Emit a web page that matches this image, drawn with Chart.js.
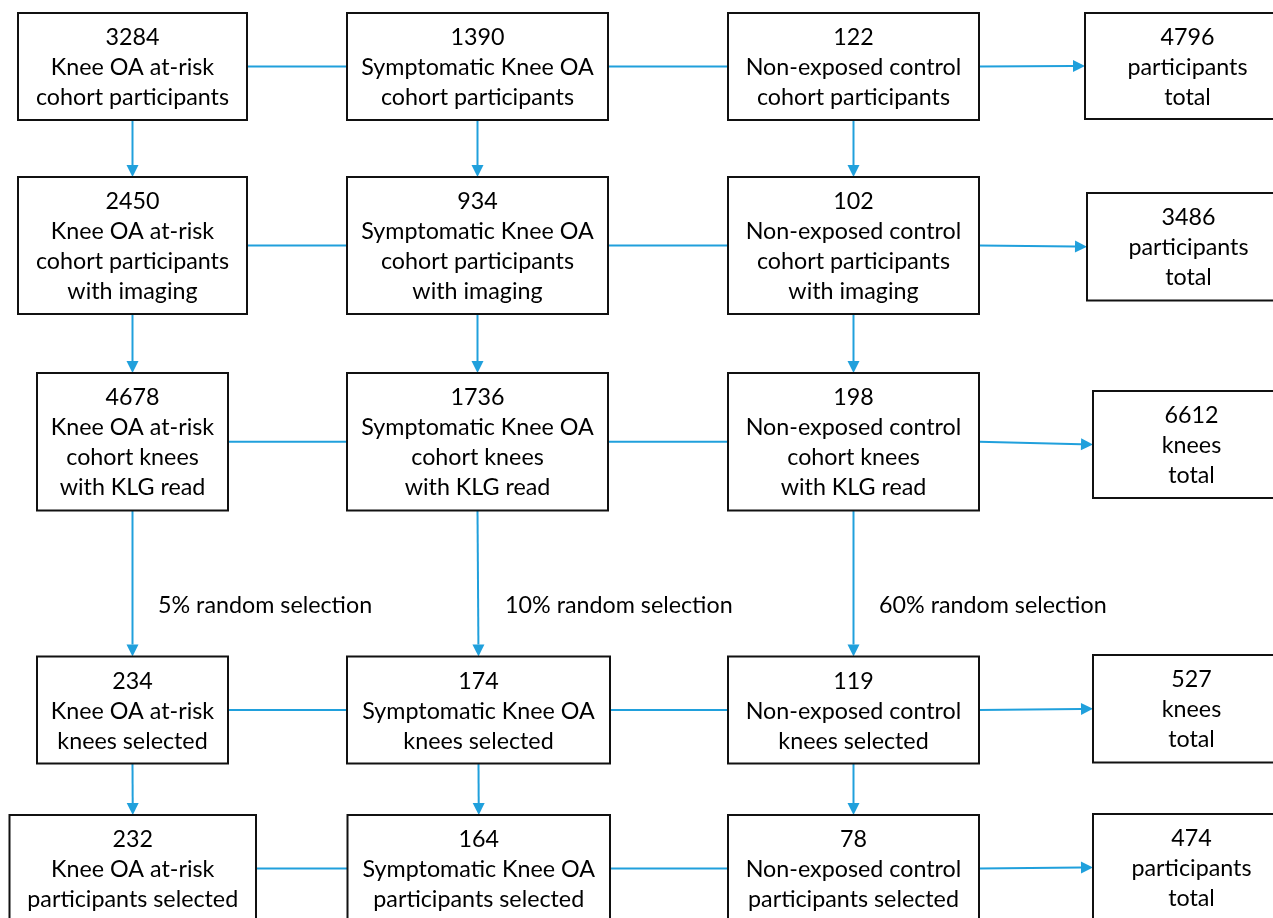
<!DOCTYPE html>
<html>
<head>
<meta charset="utf-8">
<title>Flow of participants and knees</title>
<script src="https://cdn.jsdelivr.net/npm/chart.js@4.4.0/dist/chart.umd.min.js"></script>
<style>
  html, body { margin: 0; padding: 0; background: #fff; overflow: hidden; }
  #wrap { width: 1273px; height: 918px; }
</style>
</head>
<body>
<div id="wrap"><canvas id="flow" width="1273" height="918"></canvas></div>
<script>
// --- data ---
const groups = ['Knee OA at-risk', 'Symptomatic Knee OA', 'Non-exposed control'];
const stageLines = [
  ['cohort participants'],
  ['cohort participants', 'with imaging'],
  ['cohort knees', 'with KLG read'],
  ['knees selected'],
  ['participants selected']
];
const atRiskCounts = [3284, 2450, 4678, 234, 232];
const symptomaticCounts = [1390, 934, 1736, 174, 164];
const controlCounts = [122, 102, 198, 119, 78];
const totalCounts = [4796, 3486, 6612, 527, 474];
const totalUnits = ['participants', 'participants', 'knees', 'knees', 'participants'];
const selectionRates = ['5%', '10%', '60%'];

// --- layout (chart units: x 0..1273, y 0..918 from the top) ---
const rowTop = [13, 177, 373, 656.5, 815];
const rowBottom = [120, 314, 510.5, 763.5, 922];
const colEdges = [
  [[18, 247], [347, 608], [728, 979]],
  [[18, 247], [347, 608], [728, 979]],
  [[37, 228], [347, 608], [728, 979]],
  [[37, 228], [347, 610], [728, 979]],
  [[9.5, 256], [347.5, 610], [728, 979]]
];
const totalBoxes = [
  { l: 1085, t: 13, b: 119 },
  { l: 1087, t: 193, b: 300.5 },
  { l: 1093, t: 391, b: 498 },
  { l: 1093, t: 655, b: 762.5 },
  { l: 1093, t: 814, b: 921 }
];
const totalRight = 1290;
const labelX = [158, 505, 879];
const labelY = 604;

const LINE_BLUE = '#20a0dc';
const LINE_H = 30;
const FONT_FAMILY = 'Lato, "Open Sans", sans-serif';
// phrase widths measured on the reference, used to size the font
const FIT_TEXT = ['Symptomatic Knee OA', 'cohort participants', '5% random selection', 'participants selected'];
const FIT_WIDTH = 227 + 192 + 221 + 211;

const flowPlugin = {
  id: 'flow',
  afterDraw(chart) {
    const { ctx, scales: { x, y } } = chart;
    const px = v => x.getPixelForValue(v);
    const py = v => y.getPixelForValue(v);

    ctx.font = '100px ' + FONT_FAMILY;
    const w100 = FIT_TEXT.reduce((s, t) => s + ctx.measureText(t).width, 0);
    const fontSize = 100 * FIT_WIDTH / w100;
    ctx.font = fontSize.toFixed(2) + 'px ' + FONT_FAMILY;
    const capHalf = ctx.measureText('H').actualBoundingBoxAscent / 2;

    const counts = [atRiskCounts, symptomaticCounts, controlCounts];
    const boxes = stageLines.map((lines, s) => {
      const row = colEdges[s].map((e, c) => ({
        l: e[0], r: e[1], t: rowTop[s], b: rowBottom[s],
        lines: [String(counts[c][s]), groups[c], ...lines]
      }));
      const tb = totalBoxes[s];
      row.push({ l: tb.l, r: totalRight, t: tb.t, b: tb.b,
        lines: [String(totalCounts[s]), totalUnits[s], 'total'] });
      return row;
    });
    const cx = b => (b.l + b.r) / 2;
    const cy = b => (b.t + b.b) / 2;

    function line(x1, y1, x2, y2, arrow) {
      const X1 = px(x1), Y1 = py(y1), X2 = px(x2), Y2 = py(y2);
      const ang = Math.atan2(Y2 - Y1, X2 - X1);
      const len = 12, half = 6;
      const ex = arrow ? X2 - Math.cos(ang) * len : X2;
      const ey = arrow ? Y2 - Math.sin(ang) * len : Y2;
      ctx.strokeStyle = LINE_BLUE;
      ctx.lineWidth = 2;
      ctx.beginPath();
      ctx.moveTo(X1, Y1);
      ctx.lineTo(ex, ey);
      ctx.stroke();
      if (arrow) {
        ctx.fillStyle = LINE_BLUE;
        ctx.beginPath();
        ctx.moveTo(X2, Y2);
        ctx.lineTo(ex - Math.sin(ang) * half, ey + Math.cos(ang) * half);
        ctx.lineTo(ex + Math.sin(ang) * half, ey - Math.cos(ang) * half);
        ctx.closePath();
        ctx.fill();
      }
    }

    ctx.save();
    // connectors and arrows
    boxes.forEach((row, s) => {
      for (let c = 0; c < 2; c++) {
        line(row[c].r, cy(row[c]), row[c + 1].l, cy(row[c + 1]), false);
      }
      line(row[2].r, cy(row[2]), row[3].l, cy(row[3]), true);
      if (s < boxes.length - 1) {
        for (let c = 0; c < 3; c++) {
          const a = row[c], b = boxes[s + 1][c];
          line(cx(a), a.b, cx(b), b.t, true);
        }
      }
    });

    // boxes and text
    boxes.flat().forEach(b => {
      ctx.fillStyle = '#fff';
      ctx.fillRect(px(b.l), py(b.t), px(b.r) - px(b.l), py(b.b) - py(b.t));
      ctx.strokeStyle = '#111';
      ctx.lineWidth = 2;
      ctx.strokeRect(px(b.l), py(b.t), px(b.r) - px(b.l), py(b.b) - py(b.t));
      ctx.fillStyle = '#000';
      ctx.textAlign = 'center';
      ctx.textBaseline = 'alphabetic';
      const n = b.lines.length;
      b.lines.forEach((t, i) => {
        const ly = cy(b) + (i - (n - 1) / 2) * LINE_H;
        ctx.fillText(t, px(cx(b)), py(ly) + capHalf);
      });
    });

    // random selection labels
    ctx.textAlign = 'left';
    selectionRates.forEach((r, c) => {
      ctx.fillText(r + ' random selection', px(labelX[c]), py(labelY) + capHalf);
    });
    ctx.restore();
  }
};

new Chart(document.getElementById('flow'), {
  type: 'scatter',
  data: { datasets: [{ data: [], pointRadius: 0 }] },
  options: {
    responsive: false,
    animation: false,
    devicePixelRatio: 1,
    layout: { padding: 0 },
    plugins: { legend: { display: false }, tooltip: { enabled: false } },
    scales: {
      x: { type: 'linear', min: 0, max: 1273, display: false },
      y: { type: 'linear', min: 0, max: 918, reverse: true, display: false }
    }
  },
  plugins: [flowPlugin]
});
</script>
</body>
</html>
